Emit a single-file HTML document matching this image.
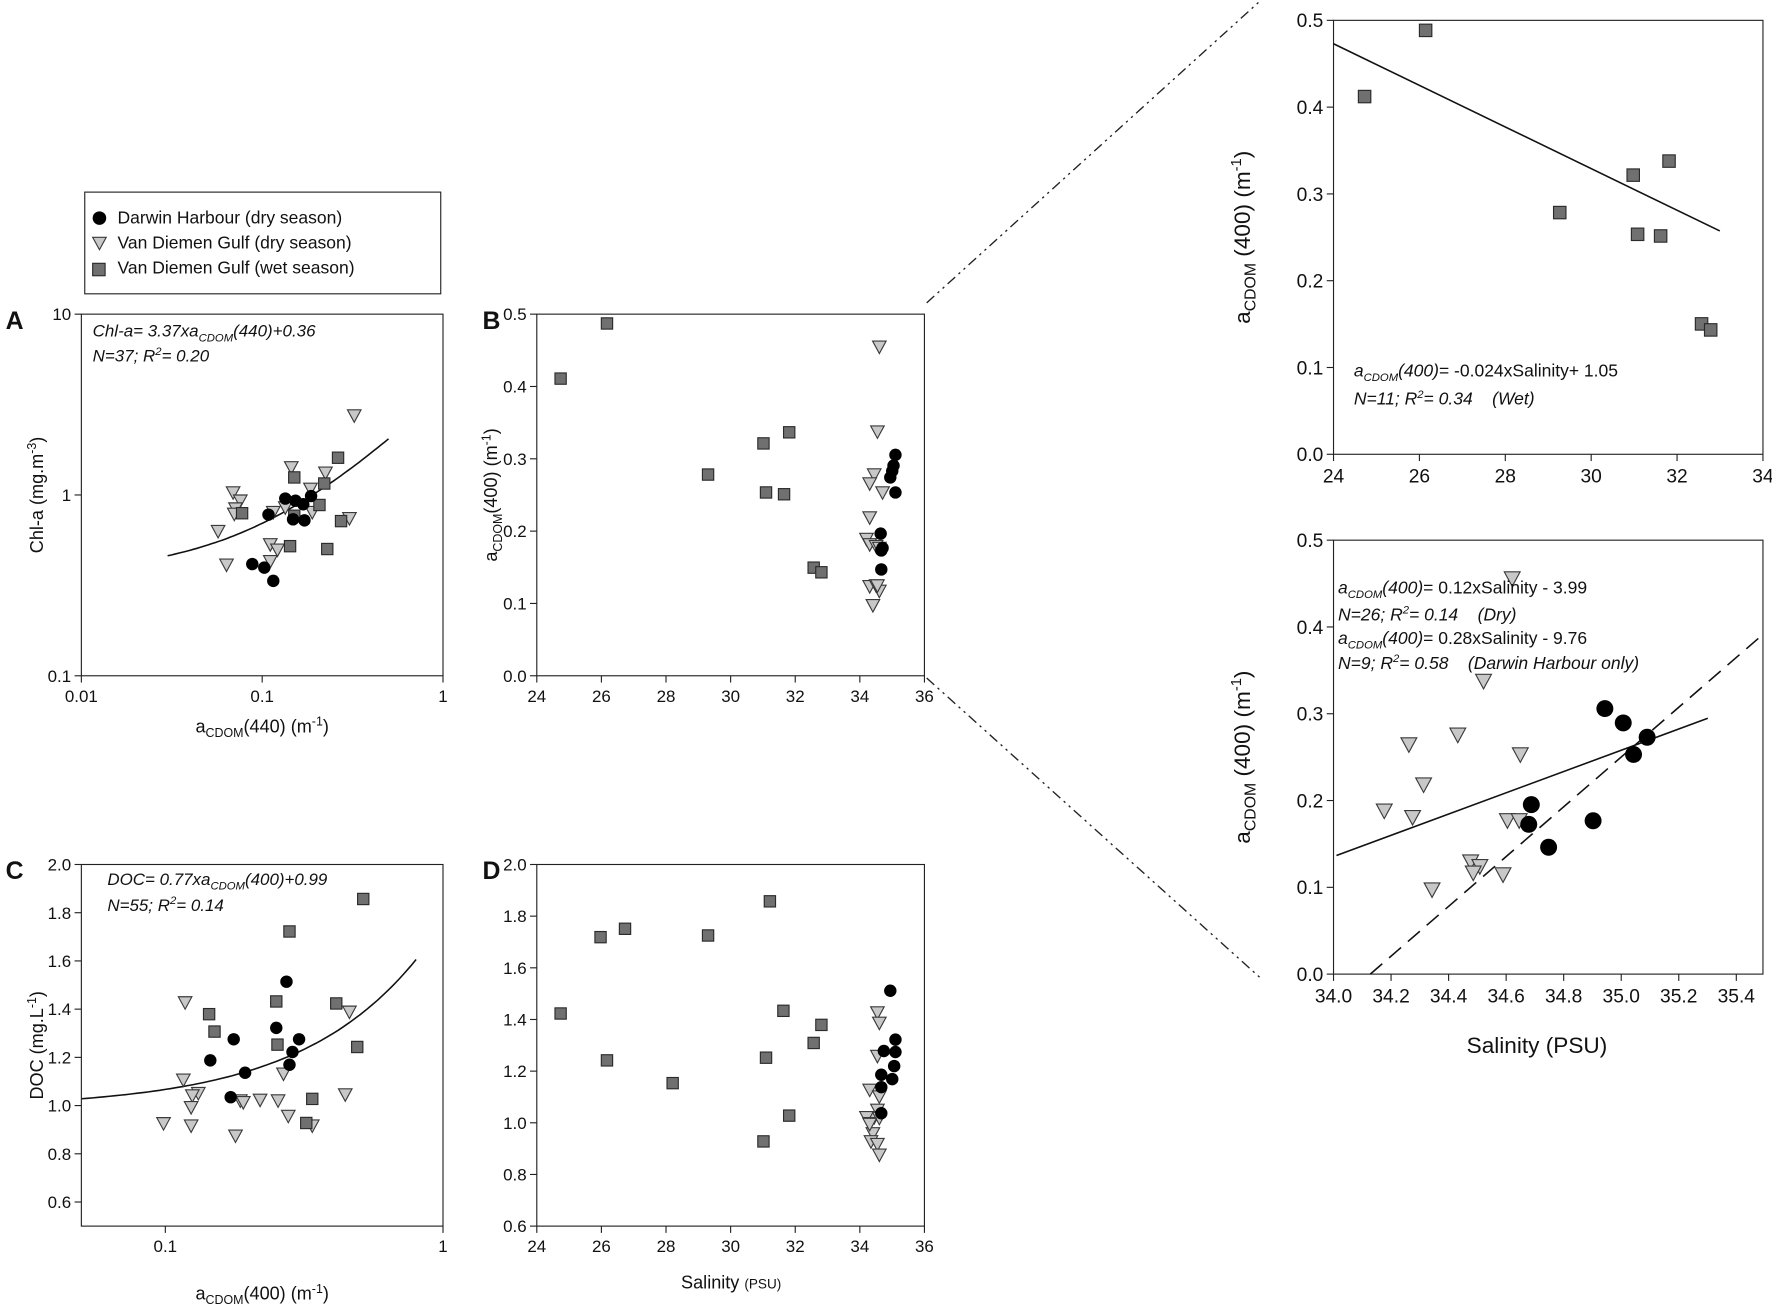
<!DOCTYPE html>
<html><head><meta charset="utf-8"><style>
html,body{margin:0;padding:0;background:#fff;}
svg{display:block;}
text{font-family:"Liberation Sans",sans-serif;fill:#111;}
.n{font-family:"Liberation Sans Narrow","Liberation Sans",sans-serif;}
</style></head><body>
<svg id="s" width="1772" height="1312" viewBox="0 0 1568 1161" preserveAspectRatio="none" xmlns="http://www.w3.org/2000/svg">
<rect width="1568" height="1161" fill="#fff"/>
<g id="g"></g>
</svg>
<script>
const g=document.getElementById('g');let h='';
function P(p){return {x:z=>p.dx0+(z-p.zx0)*(p.dx1-p.dx0)/(p.zx1-p.zx0),y:z=>p.dy0+(z-p.zy0)*(p.dy1-p.dy0)/(p.zy1-p.zy0),p:p};}
const A=P({zx0:135,zx1:738,dx0:72,dx1:392,zy0:372,zy1:1382,dy0:278,dy1:598});
const B=P({zx0:938,zx1:1540,dx0:475,dx1:818,zy0:372,zy1:1382,dy0:278,dy1:598});
const C=P({zx0:135,zx1:738,dx0:72,dx1:392,zy0:75,zy1:1155,dy0:765,dy1:1085});
const D=P({zx0:938,zx1:1540,dx0:475,dx1:818,zy0:75,zy1:1155,dy0:765,dy1:1085});
const T=P({zx0:368,zx1:1543,dx0:1180,dx1:1560,zy0:67,zy1:1365,dy0:18,dy1:402});
const R=P({zx0:372,zx1:1540,dx0:1180,dx1:1560,zy0:115,zy1:1326,dy0:478,dy1:862});
function circ(x,y,r){h+=`<circle cx="${x}" cy="${y}" r="${r}" fill="#000"/>`;}
function tri(x,y,s){h+=`<polygon points="${x-s/2},${y-s*0.42} ${x+s/2},${y-s*0.42} ${x},${y+s*0.5}" fill="#c8c8c8" stroke="#3a3a3a" stroke-width="1"/>`;}
function sq(x,y,s){h+=`<rect x="${x-s/2}" y="${y-s/2}" width="${s}" height="${s}" fill="#707070" stroke="#2a2a2a" stroke-width="1"/>`;}
function pts(M,arr,f,s){arr.forEach(a=>f(M.x(a[0]),M.y(a[1]),s));}
function box(M){const p=M.p;h+=`<rect x="${p.dx0}" y="${p.dy0}" width="${p.dx1-p.dx0}" height="${p.dy1-p.dy0}" fill="none" stroke="#222" stroke-width="1"/>`;}
function yt(M,vals,cls,fs){vals.forEach(v=>{const y=M.y(v[0]);h+=`<line x1="${M.p.dx0-6}" x2="${M.p.dx0}" y1="${y}" y2="${y}" stroke="#222"/><text class="${cls}" x="${M.p.dx0-9}" y="${y+fs*0.36}" font-size="${fs}" text-anchor="end">${v[1]}</text>`;});}
function xt(M,vals,cls,fs){vals.forEach(v=>{const x=M.x(v[0]);h+=`<line x1="${x}" x2="${x}" y1="${M.p.dy1}" y2="${M.p.dy1+6}" stroke="#222"/><text class="${cls}" x="${x}" y="${M.p.dy1+8+fs}" font-size="${fs}" text-anchor="middle">${v[1]}</text>`;});}
function line(M,a,b,dash){h+=`<line x1="${M.x(a[0])}" y1="${M.y(a[1])}" x2="${M.x(b[0])}" y2="${M.y(b[1])}" stroke="#111" stroke-width="1.4" ${dash?'stroke-dasharray="14,8"':''}/>`;}
function curve(M,fx,fy,x0,x1,f){let d='';for(let i=0;i<=60;i++){const x=x0*Math.pow(x1/x0,i/60);d+=(i?'L':'M')+M.x(fx(x)).toFixed(1)+','+M.y(fy(f(x))).toFixed(1);}h+=`<path d="${d}" fill="none" stroke="#111" stroke-width="1.4"/>`;}

// Panel A
box(A);
const axA=x=>135+(Math.log10(x)+2)*301.5, ayA=y=>372+(1-Math.log10(y))*505;
yt(A,[[ayA(10),'10'],[ayA(1),'1'],[ayA(0.1),'0.1']],'n',15);
xt(A,[[axA(0.01),'0.01'],[axA(0.1),'0.1'],[axA(1),'1']],'n',15);
curve(A,axA,ayA,0.03,0.5,x=>3.37*x+0.36);
pts(A,[[388,870],[400,893],[392,915],[390,930],[363,978],[377,1072],[450,1015],[462,1030],[450,1062],[475,912],[455,925],[485,800],[517,860],[520,925],[542,815],[582,942],[590,655]],tri,12);
pts(A,[[403,928],[490,828],[490,935],[483,1020],[532,905],[540,845],[563,773],[568,950],[545,1028]],sq,10);
pts(A,[[447,932],[475,887],[492,893],[505,903],[488,945],[507,948],[518,880],[420,1070],[440,1080],[455,1117]],circ,5.5);

// Panel B
box(B);
yt(B,[0,0.1,0.2,0.3,0.4,0.5].map(v=>[1382-v*2020,v.toFixed(1)]),'n',15);
xt(B,[24,26,28,30,32,34,36].map(v=>[938+(v-24)*50.17,v]),'n',15);
pts(B,[[975,552],[1047,398],[1204,820],[1290,733],[1294,870],[1330,702],[1322,875],[1368,1080],[1380,1093]],sq,10);
pts(B,[[1470,463],[1467,700],[1462,820],[1455,845],[1475,870],[1455,940],[1450,1000],[1455,1015],[1465,1020],[1470,1025],[1455,1132],[1465,1130],[1470,1145],[1460,1185],[1467,1130]],tri,12);
pts(B,[[1495,765],[1492,795],[1490,810],[1487,828],[1495,870],[1472,985],[1475,1025],[1473,1032],[1473,1085]],circ,5.5);

// Panel C
box(C);
const axC=x=>275+(Math.log10(x)+1)*463, ayC=y=>75+(2.0-y)*720;
yt(C,[0.6,0.8,1.0,1.2,1.4,1.6,1.8,2.0].map(v=>[ayC(v),v.toFixed(1)]),'n',15);
xt(C,[[axC(0.1),'0.1'],[axC(1),'1']],'n',15);
curve(C,axC,ayC,0.05,0.8,x=>0.77*x+0.99);
pts(C,[[308,487],[305,718],[330,758],[320,765],[318,800],[272,848],[318,855],[392,885],[400,780],[405,785],[433,778],[463,780],[472,700],[480,826],[520,855],[575,762],[582,515]],tri,12);
pts(C,[[348,522],[357,574],[460,484],[462,613],[482,275],[520,775],[510,847],[560,490],[595,620],[605,178]],sq,10);
pts(C,[[350,660],[389,597],[408,697],[384,770],[460,563],[477,425],[487,635],[482,673],[498,597]],circ,5.5);

// Panel D
box(D);
const ayD=y=>75+(2.0-y)/1.4*1080;
yt(D,[0.6,0.8,1.0,1.2,1.4,1.6,1.8,2.0].map(v=>[ayD(v),v.toFixed(1)]),'n',15);
xt(D,[24,26,28,30,32,34,36].map(v=>[938+(v-24)*50.17,v]),'n',15);
pts(D,[[975,520],[1037,292],[1047,660],[1075,267],[1149,728],[1204,287],[1290,902],[1294,652],[1300,185],[1321,512],[1330,825],[1368,608],[1380,554]],sq,10);
pts(D,[[1467,517],[1470,548],[1467,647],[1455,748],[1470,768],[1467,808],[1462,830],[1450,830],[1455,848],[1470,832],[1460,878],[1457,902],[1467,910],[1470,942],[1455,850]],tri,12);
pts(D,[[1487,452],[1495,598],[1495,635],[1477,632],[1493,677],[1490,716],[1473,703],[1473,740],[1473,818]],circ,5.5);

// Top right
box(T);
yt(T,[0,0.1,0.2,0.3,0.4,0.5].map(v=>[1365-v*2596,v.toFixed(1)]),'',17);
xt(T,[24,26,28,30,32,34].map(v=>[368+(v-24)*117.5,v]),'',17);
line(T,[368,137],[1425,697]);
pts(T,[[453,295],[620,97],[987,642],[1188,530],[1200,707],[1286,488],[1263,712],[1375,975],[1400,993]],sq,11);

// Bottom right
box(R);
yt(R,[0,0.1,0.2,0.3,0.4,0.5].map(v=>[1326-v*2422,v.toFixed(1)]),'',17);
xt(R,[34.0,34.2,34.4,34.6,34.8,35.0,35.2,35.4].map(v=>[372+(v-34)*782.5,v.toFixed(1)]),'',17);
line(R,[380,995],[1390,612]);
line(R,[472,1326],[1540,378],true);
pts(R,[[858,222],[780,508],[710,658],[577,685],[880,713],[617,797],[510,870],[587,888],[845,897],[877,897],[745,1012],[770,1025],[752,1043],[833,1048],[640,1090]],tri,14);
pts(R,[[1110,585],[1160,625],[1225,665],[1188,713],[910,853],[903,908],[1078,898],[957,972]],circ,7.5);

// connectors
h+=`<line x1="820" y1="268" x2="1116" y2="0" stroke="#222" stroke-width="1.2" stroke-dasharray="9,4,2,4,2,4"/>`;
h+=`<line x1="820" y1="600" x2="1116" y2="866" stroke="#222" stroke-width="1.2" stroke-dasharray="9,4,2,4,2,4"/>`;
g.innerHTML=h;
</script>
<svg style="position:absolute;left:0;top:0" width="1772" height="1312" viewBox="0 0 1568 1161" preserveAspectRatio="none" xmlns="http://www.w3.org/2000/svg">
<g font-family="Liberation Sans, sans-serif" fill="#111">
<rect x="75" y="170" width="315" height="90" fill="#fff" stroke="#222" stroke-width="1"/>
<circle cx="88" cy="193" r="6" fill="#000"/>
<polygon points="82,210 94,210 88,221" fill="#c8c8c8" stroke="#3a3a3a"/>
<rect x="82" y="233" width="11" height="11" fill="#707070" stroke="#2a2a2a"/>
<text x="104" y="198" font-size="15.5" font-family="Liberation Sans Narrow, Liberation Sans, sans-serif">Darwin Harbour (dry season)</text>
<text x="104" y="220" font-size="15.5" font-family="Liberation Sans Narrow, Liberation Sans, sans-serif">Van Diemen Gulf (dry season)</text>
<text x="104" y="242" font-size="15.5" font-family="Liberation Sans Narrow, Liberation Sans, sans-serif">Van Diemen Gulf (wet season)</text>
<text x="5" y="291" font-size="22" font-weight="bold">A</text>
<text x="427" y="291" font-size="22" font-weight="bold">B</text>
<text x="5" y="778" font-size="22" font-weight="bold">C</text>
<text x="427" y="778" font-size="22" font-weight="bold">D</text>
<g font-family="Liberation Sans Narrow, Liberation Sans, sans-serif" font-style="italic" font-size="15">
<text x="82" y="298">Chl-a= 3.37xa<tspan font-size="10" dy="4">CDOM</tspan><tspan dy="-4">(440)+0.36</tspan></text>
<text x="82" y="320">N=37; R<tspan font-size="10" dy="-6">2</tspan><tspan dy="6">= 0.20</tspan></text>
<text x="95" y="783">DOC= 0.77xa<tspan font-size="10" dy="4">CDOM</tspan><tspan dy="-4">(400)+0.99</tspan></text>
<text x="95" y="806">N=55; R<tspan font-size="10" dy="-6">2</tspan><tspan dy="6">= 0.14</tspan></text>
</g>
<g font-family="Liberation Sans Narrow, Liberation Sans, sans-serif" font-size="16">
<text transform="translate(38,438) rotate(-90)" text-anchor="middle">Chl-a (mg.m<tspan font-size="11" dy="-6">-3</tspan><tspan dy="6">)</tspan></text>
<text x="232" y="648" text-anchor="middle">a<tspan font-size="11" dy="4">CDOM</tspan><tspan dy="-4">(440) (m</tspan><tspan font-size="11" dy="-6">-1</tspan><tspan dy="6">)</tspan></text>
<text transform="translate(440,438) rotate(-90)" text-anchor="middle">a<tspan font-size="11" dy="4">CDOM</tspan><tspan dy="-4">(400) (m</tspan><tspan font-size="11" dy="-6">-1</tspan><tspan dy="6">)</tspan></text>
<text transform="translate(38,925) rotate(-90)" text-anchor="middle">DOC (mg.L<tspan font-size="11" dy="-6">-1</tspan><tspan dy="6">)</tspan></text>
<text x="232" y="1150" text-anchor="middle">a<tspan font-size="11" dy="4">CDOM</tspan><tspan dy="-4">(400) (m</tspan><tspan font-size="11" dy="-6">-1</tspan><tspan dy="6">)</tspan></text>
<text x="647" y="1140" text-anchor="middle">Salinity <tspan font-size="12">(PSU)</tspan></text>
</g>
<g font-size="20">
<text transform="translate(1106,210) rotate(-90)" text-anchor="middle">a<tspan font-size="14" dy="5">CDOM</tspan><tspan dy="-5"> (400) (m</tspan><tspan font-size="13" dy="-8">-1</tspan><tspan dy="8">)</tspan></text>
<text transform="translate(1106,670) rotate(-90)" text-anchor="middle">a<tspan font-size="14" dy="5">CDOM</tspan><tspan dy="-5"> (400) (m</tspan><tspan font-size="13" dy="-8">-1</tspan><tspan dy="8">)</tspan></text>
<text x="1360" y="932" text-anchor="middle">Salinity (PSU)</text>
</g>
<g font-size="15.5">
<text x="1198" y="333"><tspan font-style="italic">a<tspan font-size="10" dy="4">CDOM</tspan><tspan dy="-4">(400)</tspan></tspan>= -0.024xSalinity+ 1.05</text>
<text x="1198" y="358" font-style="italic" xml:space="preserve">N=11; R<tspan font-size="10" dy="-6">2</tspan><tspan dy="6">= 0.34    (Wet)</tspan></text>
<text x="1184" y="525"><tspan font-style="italic">a<tspan font-size="10" dy="4">CDOM</tspan><tspan dy="-4">(400)</tspan></tspan>= 0.12xSalinity - 3.99</text>
<text x="1184" y="549" font-style="italic" xml:space="preserve">N=26; R<tspan font-size="10" dy="-6">2</tspan><tspan dy="6">= 0.14    (Dry)</tspan></text>
<text x="1184" y="570"><tspan font-style="italic">a<tspan font-size="10" dy="4">CDOM</tspan><tspan dy="-4">(400)</tspan></tspan>= 0.28xSalinity - 9.76</text>
<text x="1184" y="592" font-style="italic" xml:space="preserve">N=9; R<tspan font-size="10" dy="-6">2</tspan><tspan dy="6">= 0.58    (Darwin Harbour only)</tspan></text>
</g>
</g>
</svg>
</body></html>
